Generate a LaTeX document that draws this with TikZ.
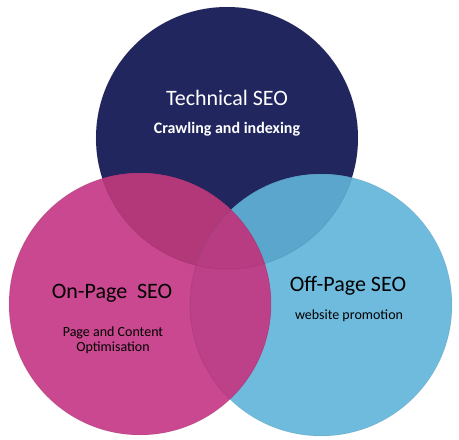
\documentclass[tikz,border=0pt]{standalone}
\usepackage{fontspec}
\setmainfont{Carlito}
\definecolor{navy}{HTML}{21265F}
\definecolor{pinkc}{HTML}{C9488F}
\definecolor{bluec}{HTML}{6EBBDE}
\definecolor{navypink}{HTML}{B3387A}
\definecolor{navyblue}{HTML}{5BA6CD}
\definecolor{pinkblue}{HTML}{BC4189}
\definecolor{triple}{HTML}{B83C82}
\tikzset{
  titletext/.style={font=\fontsize{22}{26}\selectfont, inner sep=0pt},
  subtext/.style={font=\fontsize{14}{15}\selectfont, inner sep=0pt, align=center},
}
\begin{document}
\begin{tikzpicture}[x=1pt,y=-1pt]
\useasboundingbox (0,0) rectangle (459,440);
\fill[white] (0,0) rectangle (459,440);
\def\rr{131}
\coordinate (ct) at (227,138);
\coordinate (cl) at (140,304);
\coordinate (cr) at (321,305);
% base circles
\fill[navy] (ct) circle (\rr);
\fill[bluec] (cr) circle (\rr);
\fill[pinkc] (cl) circle (\rr);
% pairwise overlaps
\begin{scope}
  \clip (ct) circle (\rr);
  \fill[navypink] (cl) circle (\rr);
\end{scope}
\begin{scope}
  \clip (ct) circle (\rr);
  \fill[navyblue] (cr) circle (\rr);
\end{scope}
\begin{scope}
  \clip (cl) circle (\rr);
  \fill[pinkblue] (cr) circle (\rr);
\end{scope}
\begin{scope}
  \clip (ct) circle (\rr);
  \clip (cl) circle (\rr);
  \fill[triple] (cr) circle (\rr);
\end{scope}
% soft edges
\draw[black, opacity=0.07, line width=0.8pt] (ct) circle (\rr);
\draw[black, opacity=0.07, line width=0.8pt] (cl) circle (\rr);
\draw[black, opacity=0.07, line width=0.8pt] (cr) circle (\rr);
% texts
\node[titletext, text=white] (t1) at (227,98) {Technical SEO};
\node[subtext, text=white, font=\fontsize{16}{17}\selectfont\bfseries] (t2) at (227,129) {Crawling and indexing};
\node[titletext, text=black] (l1) at (112,293) {On-Page\ \ SEO};
\node[subtext, text=black] (l2) at (113,340) {Page and Content\\Optimisation};
\node[titletext, text=black] (r1) at (348,286) {Off-Page SEO};
\node[subtext, text=black] (r2) at (349,316) {website promotion};
\end{tikzpicture}
\end{document}
